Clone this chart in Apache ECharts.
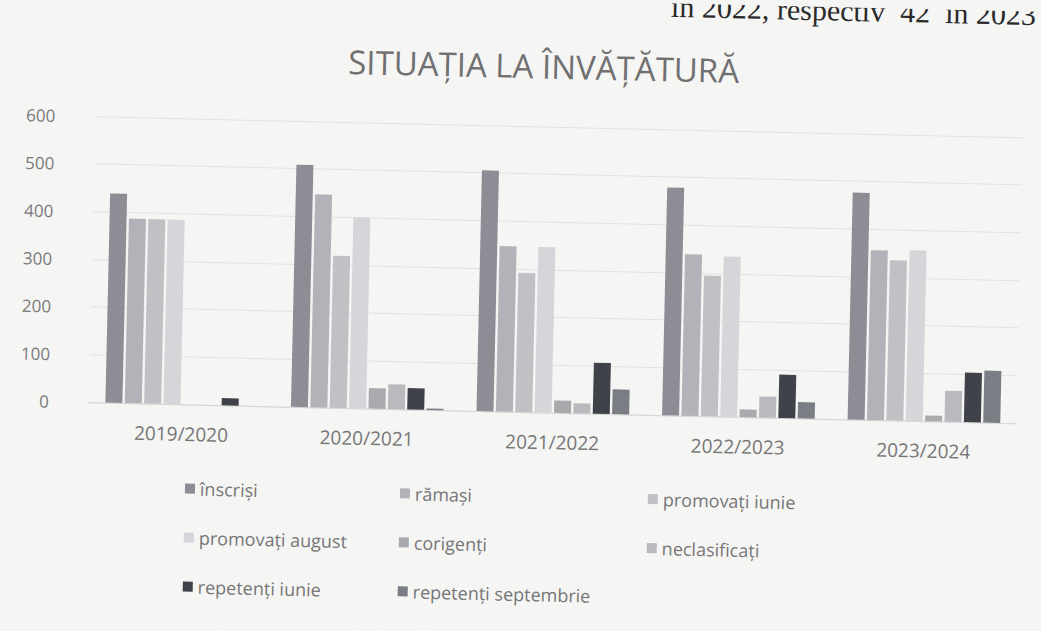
<!DOCTYPE html>
<html>
<head>
<meta charset="utf-8">
<script src="https://cdn.jsdelivr.net/npm/echarts@6/dist/echarts.min.js"></script>
<style>
  html, body { margin: 0; padding: 0; background: #f5f5f4; overflow: hidden; }
  #chart { width: 1041px; height: 631px; transform: rotate(1.3deg); }
</style>
</head>
<body>
<div id="chart"></div>
<script>
var years = ['2019/2020', '2020/2021', '2021/2022', '2022/2023', '2023/2024'];
var yTicks = [0, 100, 200, 300, 400, 500, 600];

var inscrisi = [439, 508, 505, 478, 476];
var ramasi = [387, 447, 347, 339, 356];
var promIunie = [387, 319, 292, 295, 336];
var promAugust = [387, 401, 347, 336, 358];
var corigenti = [0, 43, 26, 16, 12];
var neclasificati = [0, 52, 21, 44, 65];
var repIunie = [15, 45, 107, 91, 104];
var repSept = [0, 3, 52, 34, 109];

var names = ['înscriși', 'rămași', 'promovați iunie', 'promovați august',
  'corigenți', 'neclasificați', 'repetenți iunie', 'repetenți septembrie'];
var values = [inscrisi, ramasi, promIunie, promAugust, corigenti, neclasificati, repIunie, repSept];
var colors = ['#8d8e95', '#b2b3b8', '#c0c1c5', '#d5d6d9', '#a9aaae', '#b9babe', '#40424a', '#7b7d85'];

var myChart = echarts.init(document.getElementById('chart'), null, { renderer: 'svg' });

var font = "'Open Sans', sans-serif";
var legendText = { color: '#767676', fontSize: 18, fontFamily: font, lineHeight: 20 };
function legendCol(data, left) {
  return {
    data: data, left: left, top: 481, orient: 'vertical',
    icon: 'rect', itemWidth: 10, itemHeight: 10, itemGap: 29,
    textStyle: legendText
  };
}

var series = names.map(function (n, i) {
  return {
    name: n,
    type: 'bar',
    data: values[i],
    barWidth: 17,
    barGap: '14%',
    itemStyle: { color: colors[i] }
  };
});

var option = {
  backgroundColor: '#f5f5f4',
  animation: false,
  color: colors,
  title: {
    text: 'SITUAȚIA LA ÎNVĂȚĂTURĂ',
    left: 533, top: 44, textAlign: 'center',
    textStyle: { color: '#707070', fontSize: 33, fontWeight: 'normal', fontFamily: font }
  },
  graphic: [{
    type: 'text', right: 12, top: -12,
    style: { text: 'în 2022, respectiv  42  în 2023', fill: '#2a2a2a', font: '30px "Liberation Serif"' }
  }],
  legend: [
    legendCol([names[0], names[3], names[6]], 184),
    legendCol([names[1], names[4], names[7]], 399),
    legendCol([names[2], names[5]], 647)
  ],
  grid: { left: 91, right: 22, top: 126, bottom: 219 },
  xAxis: {
    type: 'category',
    data: years,
    axisLine: { lineStyle: { color: '#d6d6d6' } },
    axisTick: { show: false },
    axisLabel: { color: '#767676', fontSize: 19, fontFamily: font, margin: 20 }
  },
  yAxis: {
    type: 'value',
    min: yTicks[0], max: yTicks[yTicks.length - 1], interval: 100,
    axisLine: { show: false },
    axisTick: { show: false },
    splitLine: { lineStyle: { color: '#e2e2e2' } },
    axisLabel: { color: '#7a7a7a', fontSize: 17, fontFamily: font, margin: 40 }
  },
  series: series
};
myChart.setOption(option);
</script>
</body>
</html>
